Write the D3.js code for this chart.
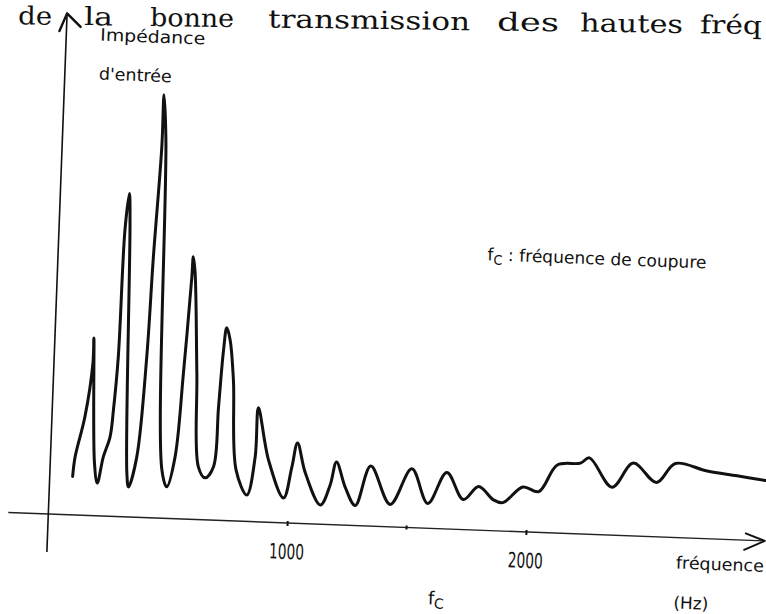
<!DOCTYPE html>
<html>
<head>
<meta charset="utf-8">
<script src="https://cdn.jsdelivr.net/npm/d3@7"></script>
<style>
  html, body { margin: 0; padding: 0; background: #fff; }
  svg { display: block; }
</style>
</head>
<body>
<svg id="chart" width="766" height="614"></svg>
<script>
// Input impedance versus frequency (Hz); impedance in arbitrary units.
const frequencies = [96, 103, 138, 163, 163, 185, 200, 221, 246, 256, 268, 276, 289, 296, 322, 331,
  361, 387, 399, 417, 418, 433, 468, 491, 521, 543, 563, 566, 576, 599, 620, 650,
  683, 695, 707, 717, 733, 753, 778, 827, 856, 862, 912, 981, 1011, 1031, 1068, 1136,
  1174, 1197, 1237, 1282, 1341, 1428, 1513, 1585, 1660, 1733, 1795, 1859, 1899, 1980,
  2047, 2121, 2217, 2254, 2353, 2438, 2538, 2614, 2748, 2874, 2993];
const impedance = [9.6, 14.5, 24.7, 38.2, 44.4, 13.2, 8.2, 14.8, 19.8, 26.6, 39.9, 71.7, 80.8, 73.5, 11.0, 7.5,
  15.1, 40.2, 65.2, 92.8, 105.8, 94.6, 12.1, 7.9, 15.4, 36.5, 60.6, 65.6, 61.6, 36.6, 13.2, 10.5,
  13.3, 28.3, 42.6, 48.2, 45.2, 35.2, 12.8, 6.6, 16.2, 28.5, 15.6, 6.2, 14.0, 20.1, 12.7, 4.8,
  9.9, 15.7, 9.5, 5.0, 15.0, 5.6, 14.7, 6.2, 14.1, 7.5, 10.9, 7.7, 7.1, 11.2,
  10.2, 17.0, 17.7, 19.1, 12.0, 18.2, 13.6, 18.5, 16.9, 16.0, 15.1];

const tickValues = [1000, 2000];
const tickLabels = ["1000", "2000"];
const cutoffFrequency = 1500;

// Running header line of the page
const headerWords = ["de", "la", "bonne", "transmission", "des", "hautes", "fréq"];
const headerX = [18, 84, 150, 268, 497, 580, 700];
const headerLen = [34, 29, 84, 202, 62, 103, 62];

const W = 766, H = 614;
const origin = [48.3, 514];   // where the two axes cross
const tilt = 2.15;            // the figure sits slightly rotated on the page

const svg = d3.select("#chart");
svg.append("rect").attr("width", W).attr("height", H).attr("fill", "#fff");

const ink = "#111";
const sans = "'DejaVu Sans', 'Open Sans', sans-serif";

// Header line of text
const header = svg.append("g")
  .attr("transform", "translate(0,24) rotate(0.75)");
header.selectAll("text")
  .data(headerWords)
  .join("text")
  .attr("x", (d, i) => headerX[i])
  .attr("y", 0)
  .attr("font-family", "'DejaVu Serif', serif")
  .attr("font-size", 25)
  .attr("fill", ink)
  .attr("textLength", (d, i) => headerLen[i])
  .attr("lengthAdjust", "spacingAndGlyphs")
  .text(d => d);

const g = svg.append("g")
  .attr("transform", `translate(${origin[0]},${origin[1]}) rotate(${tilt})`);

const x = d3.scaleLinear().domain([0, 3000]).range([0, 717]);
const y = d3.scaleLinear().domain([0, 120]).range([0, -480]);

// Frequency axis
g.append("line")
  .attr("x1", -40).attr("y1", 0)
  .attr("x2", x(3000)).attr("y2", 0)
  .attr("stroke", "#222").attr("stroke-width", 1.4);
g.append("path")
  .attr("d", `M${x(3000) - 20},-7 L${x(3000)},0 L${x(3000) - 21},10`)
  .attr("fill", "none").attr("stroke", ink).attr("stroke-width", 2)
  .attr("stroke-linejoin", "round");

const xAxis = d3.axisBottom(x)
  .tickValues(tickValues)
  .tickFormat((d, i) => tickLabels[i])
  .tickSize(3);
const axisG = g.append("g").call(xAxis);
axisG.select(".domain").remove();
axisG.selectAll(".tick line")
  .attr("y1", -2).attr("y2", 3)
  .attr("stroke", ink).attr("stroke-width", 2);
axisG.selectAll(".tick text")
  .attr("y", 36).attr("dy", 0)
  .attr("font-family", sans)
  .attr("font-size", 21)
  .attr("fill", ink)
  .attr("textLength", 35)
  .attr("lengthAdjust", "spacingAndGlyphs");

// Cut-off frequency marker on the axis
g.append("line")
  .attr("x1", x(cutoffFrequency)).attr("x2", x(cutoffFrequency))
  .attr("y1", -2).attr("y2", 2)
  .attr("stroke", ink).attr("stroke-width", 2);
const fcLabel = g.append("text")
  .attr("x", x(cutoffFrequency) + 24).attr("y", 76)
  .attr("font-family", sans).attr("font-size", 18).attr("fill", ink);
fcLabel.append("tspan").text("f");
fcLabel.append("tspan").attr("dy", 4).attr("font-size", 14).text("C");

// Impedance axis
g.append("line")
  .attr("x1", 0).attr("y1", 38)
  .attr("x2", 0).attr("y2", -501)
  .attr("stroke", ink).attr("stroke-width", 1.6);
g.append("path")
  .attr("d", "M-7,-483 L0,-501 L14,-488")
  .attr("fill", "none").attr("stroke", ink).attr("stroke-width", 2.4)
  .attr("stroke-linejoin", "round").attr("stroke-linecap", "round");

// Axis titles
const title = (txt, tx, ty, size, len) => g.append("text")
  .attr("x", tx).attr("y", ty)
  .attr("font-family", sans).attr("font-size", size)
  .attr("fill", ink)
  .attr("textLength", len).attr("lengthAdjust", "spacingAndGlyphs")
  .text(txt);

title("Impédance", 34, -475, 17, 105);
title("d'entrée", 34, -436, 17, 73);
title("fréquence", 629, 31, 17, 88);
title("(Hz)", 628, 71, 17, 35);

// Note explaining the cut-off frequency symbol
const note = g.append("text")
  .attr("x", x(1796)).attr("y", y(67.5))
  .attr("font-family", sans).attr("font-size", 17).attr("fill", ink);
note.append("tspan").text("f");
note.append("tspan").attr("dy", 4).attr("font-size", 13).text("C");
note.append("tspan").attr("dy", -4)
  .attr("textLength", 204).attr("lengthAdjust", "spacingAndGlyphs")
  .text(" : fréquence de coupure");

// The impedance curve
const pts = frequencies.map((f, i) => [f, impedance[i]]);
const line = d3.line()
  .x(d => x(d[0]))
  .y(d => y(d[1]))
  .curve(d3.curveCatmullRom.alpha(0.5));

g.append("path")
  .datum(pts)
  .attr("d", line)
  .attr("fill", "none")
  .attr("stroke", ink)
  .attr("stroke-width", 3)
  .attr("stroke-linejoin", "round")
  .attr("stroke-linecap", "round");
</script>
</body>
</html>
